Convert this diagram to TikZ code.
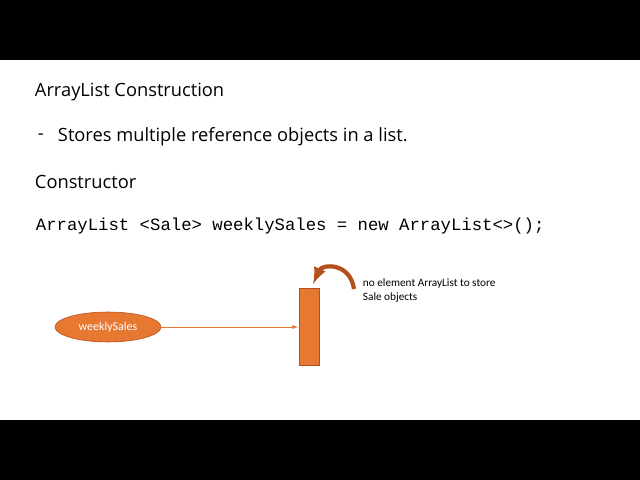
\documentclass[tikz,border=0pt]{standalone}
\usepackage{fontspec}
\setmainfont{Open Sans}
\setmonofont{Liberation Mono}
\newfontfamily\calib{Carlito}
\usetikzlibrary{shapes.geometric}
\definecolor{slideorange}{RGB}{230,120,50}
\definecolor{darkorange}{RGB}{180,80,30}
\begin{document}
\begin{tikzpicture}[x=0.025cm,y=-0.025cm,
  heading/.style={anchor=west,font=\fontsize{13}{15}\selectfont},
  codeline/.style={anchor=west,font=\ttfamily\fontsize{12.3}{14}\selectfont},
  blob/.style={ellipse,draw=darkorange,fill=slideorange,minimum width=106*0.025cm,minimum height=30*0.025cm,inner sep=0pt,text=white,font=\calib\fontsize{8.5}{10}\selectfont},
  note/.style={anchor=north west,align=left,font=\calib\fontsize{8}{9.5}\selectfont}]
  \fill [black] (0,0) rectangle (640,60);
  \fill [black] (0,420) rectangle (640,480);
  \useasboundingbox (0,0) rectangle (640,480);

  \node [heading] (title) at (30,92) {ArrayList Construction};
  \node [heading] (dash) at (33,137) {-};
  \node [heading] (point) at (53,137) {Stores multiple reference objects in a list.};
  \node [heading] (ctor) at (30,182) {Constructor};
  \node [codeline] (code) at (31,226) {ArrayList <Sale> weeklySales = new ArrayList<>();};

  \node [blob] (ws) at (108,327) {weeklySales};
  \node [draw=darkorange,fill=slideorange,minimum width=20*0.025cm,minimum height=77*0.025cm,inner sep=0pt] (list) at (309,326.5) {};
  \coordinate (tip) at (298,327);
  \coordinate (cs) at (354,289);
  \coordinate (ce) at (313,284);
  \node [note] (txt) at (358,274) {no element ArrayList to store\\Sale objects};

  \draw [slideorange,->,>=latex] (ws) -- (tip);
  \draw [darkorange,line width=3pt,-latex] (cs) .. controls (350,262) and (322,264) .. (ce);
\end{tikzpicture}
\end{document}
